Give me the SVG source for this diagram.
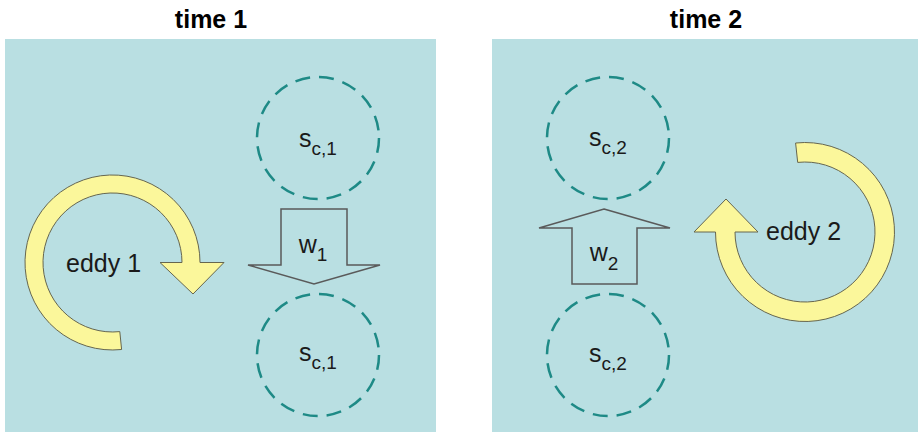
<svg xmlns="http://www.w3.org/2000/svg" width="918" height="435" viewBox="0 0 918 435">
  <style>
    .panel { fill: #b9dfe2; }
    .title { font-family: "Liberation Sans", Arial, sans-serif; font-weight: bold; font-size: 25px; fill: #000; text-anchor: middle; }
    .lbl { font-family: "Liberation Sans", Arial, sans-serif; font-size: 25px; fill: #1a1a1a; }
    .mid { text-anchor: middle; }
    .sub { font-size: 19px; }
    .cell { fill: none; stroke: #1e8a86; stroke-width: 2.5; stroke-dasharray: 15 9; }
    .flow { fill: #b9dfe2; stroke: #5a5a5a; stroke-width: 1.5; stroke-linejoin: miter; }
    .eddy { fill: #fbf79b; stroke: #66664f; stroke-width: 1; }
  </style>

  <rect x="0" y="0" width="918" height="435" fill="#ffffff"/>

  <!-- left panel: time 1 -->
  <g id="panel-time1">
    <text class="title" x="211" y="28">time 1</text>
    <rect class="panel" x="5" y="39" width="431" height="393"/>
  </g>

  <!-- right panel: time 2 -->
  <g id="panel-time2">
    <text class="title" x="706" y="28">time 2</text>
    <rect class="panel" x="492" y="39" width="426" height="393"/>
  </g>

  <!-- eddy 1: clockwise ring, head on the right pointing down -->
  <g id="eddy1">
    <path class="eddy" d="M200,262.5 L224,262.5 L193,294 L160,262.5 L182,262.5 A69.5,69.5 0 1 0 119.8,331.6 L121.6,349.5 A87.5,87.5 0 1 1 200,262.5 Z"/>
    <text class="lbl" x="66" y="272">eddy 1</text>
  </g>

  <!-- eddy 2: clockwise ring, head on the left pointing up -->
  <g id="eddy2">
    <path class="eddy" d="M795.6,143 A89.5,89.5 0 1 1 715.5,232 L694,232 L726,199 L758,232 L735,232 A70,70 0 1 0 797.7,162.4 Z"/>
    <text class="lbl" x="766" y="240">eddy 2</text>
  </g>

  <!-- scalar cells -->
  <g id="sc1-top">
    <circle class="cell" cx="318" cy="138" r="61"/>
    <text class="lbl mid" x="318" y="147">s<tspan class="sub" dy="8">c,1</tspan></text>
  </g>
  <g id="sc1-bottom">
    <circle class="cell" cx="318" cy="355" r="61"/>
    <text class="lbl mid" x="318" y="361">s<tspan class="sub" dy="8">c,1</tspan></text>
  </g>
  <g id="sc2-top">
    <circle class="cell" cx="608" cy="138" r="61"/>
    <text class="lbl mid" x="608" y="146">s<tspan class="sub" dy="8">c,2</tspan></text>
  </g>
  <g id="sc2-bottom">
    <circle class="cell" cx="608" cy="355" r="61"/>
    <text class="lbl mid" x="608" y="362">s<tspan class="sub" dy="8">c,2</tspan></text>
  </g>

  <!-- vertical velocity arrows -->
  <g id="connectors">
    <g id="w1">
      <path class="flow" d="M281,209 L347,209 L347,265 L380,265 L314,284 L248,265 L281,265 Z"/>
      <text class="lbl mid" x="313" y="253">w<tspan class="sub" dy="8">1</tspan></text>
    </g>
    <g id="w2">
      <path class="flow" d="M604,209 L670,228 L637,228 L637,284 L572,284 L572,228 L539,228 Z"/>
      <text class="lbl mid" x="604" y="261">w<tspan class="sub" dy="9">2</tspan></text>
    </g>
  </g>
</svg>
